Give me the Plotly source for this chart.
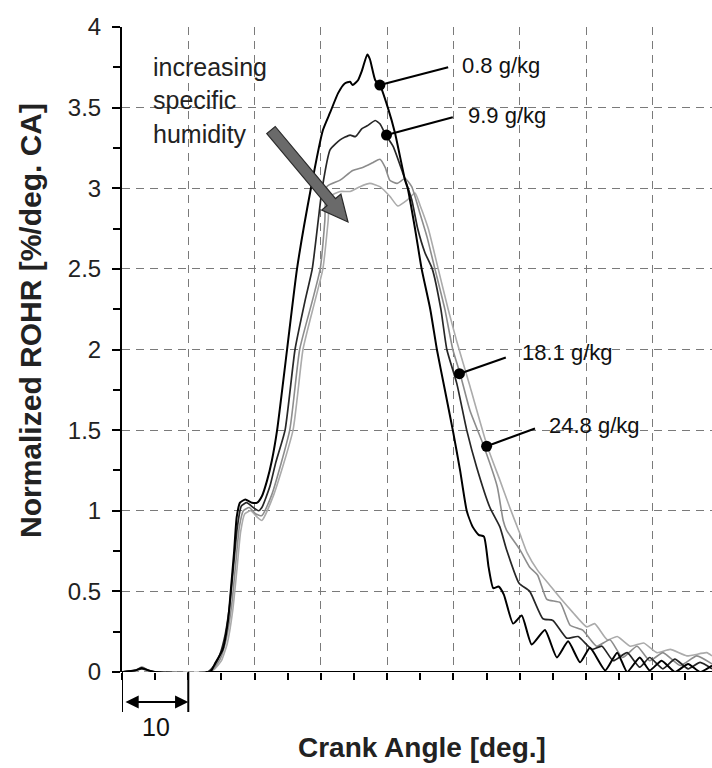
import math
import plotly.graph_objects as go

# ---------------- data ----------------
ca_08 = [0, 2.0, 3.0, 4.0, 5.0, 13.3, 14.0, 15.2, 16.0, 16.4, 16.9, 17.3, 17.8, 18.6, 19.6,
         20.4, 21.1, 21.9, 22.6, 23.4, 24.9, 26.4, 28.5, 30.3, 31.4, 32.6, 33.6, 34.4, 34.8,
         35.6, 36.2, 37.0, 37.4, 38.2, 38.9, 40.1, 41.2, 42.7, 43.1, 44.2, 45.2, 46.5, 47.5,
         48.7, 49.9, 51.0, 52.0, 52.9, 53.8, 54.6, 55.3, 56.0, 56.8, 57.6, 59.0, 60.3, 61.8,
         63.8, 65.6, 67.3, 69.1, 70.6, 72.9, 74.7, 76.2, 78.1, 79.6, 81.4, 83.4, 85.4, 87.2, 89.0]
rohr_08 = [0, 0.01, 0.025, 0.01, 0, 0, 0.05, 0.14, 0.32, 0.5, 0.74, 0.96, 1.05, 1.07, 1.05,
           1.05, 1.09, 1.19, 1.31, 1.5, 2.0, 2.5, 3.0, 3.36, 3.47, 3.59, 3.65, 3.66, 3.64,
           3.67, 3.73, 3.83, 3.80, 3.67, 3.64, 3.5, 3.34, 3.05, 3.0, 2.75, 2.5, 2.25, 2.0,
           1.75, 1.5, 1.25, 1.0, 0.9, 0.85, 0.84, 0.65, 0.52, 0.53, 0.48, 0.30, 0.35, 0.17,
           0.26, 0.09, 0.19, 0.06, 0.15, 0.01, 0.12, 0.0, 0.09, 0.01, 0.07, 0.0, 0.05, 0.0, 0.04]

ca_99 = [0, 2, 3, 4, 5, 12.9, 13.5, 14.5, 15.4, 16.2, 16.8, 17.4, 18.0, 18.8, 19.8, 20.6,
         21.1, 22.3, 23.2, 24.6, 26.1, 27.6, 28.7, 29.6, 30.2, 31.4, 32.9, 34.4, 35.2, 36.2,
         37.1, 38.2, 38.9, 39.8, 40.9, 42.4, 43.7, 44.6, 45.7, 46.8, 48.1, 49.0, 50.5, 52.0,
         53.5, 55.5, 57.0, 58.0, 59.9, 61.5, 63.5, 65.0, 67.1, 68.8, 70.9, 72.4, 74.1, 76.2,
         78.1, 79.6, 81.6, 83.4, 85.4, 87.2, 89.0]
rohr_99 = [0, 0.01, 0.02, 0.01, 0, 0, 0.02, 0.08, 0.2, 0.4, 0.65, 0.9, 1.03, 1.05, 1.02, 1.0,
           1.02, 1.15, 1.3, 1.5, 2.0, 2.3, 2.5, 2.8, 3.0, 3.24, 3.30, 3.33, 3.32, 3.37,
           3.39, 3.42, 3.40, 3.33, 3.26, 3.09, 2.93, 2.75, 2.6, 2.5, 2.25, 2.0, 1.79, 1.5,
           1.27, 1.02, 0.9, 0.76, 0.55, 0.5, 0.33, 0.32, 0.21, 0.22, 0.14, 0.16, 0.07, 0.12,
           0.03, 0.09, 0.02, 0.08, 0.02, 0.06, 0.02]

ca_181 = [0, 2, 3, 4, 5, 13.0, 13.8, 14.8, 15.7, 16.5, 17.1, 17.7, 18.3, 19.2, 20.2, 21.1,
          22.6, 25.3, 26.8, 28.7, 29.9, 30.6, 30.9, 32.9, 34.8, 36.4, 37.9, 38.9, 39.7, 40.4,
          41.5, 42.7, 43.7, 44.9, 46.0, 47.2, 48.7, 49.9, 51.0, 52.5, 54.4, 56.6, 57.5, 58.0,
          60.0, 61.5, 62.7, 64.1, 66.1, 67.6, 69.5, 71.6, 73.6, 75.5, 77.7, 79.6, 81.6, 84.2,
          86.7, 89.0]
rohr_181 = [0, 0.01, 0.03, 0.01, 0, 0, 0.02, 0.08, 0.2, 0.4, 0.65, 0.9, 1.0, 1.02, 0.98, 0.97,
            1.1, 1.5, 2.0, 2.3, 2.5, 2.8, 3.01, 3.05, 3.11, 3.13, 3.16, 3.18, 3.13, 3.05,
            3.03, 3.06, 3.01, 2.85, 2.7, 2.5, 2.25, 2.0, 1.85, 1.62, 1.42, 1.15, 0.94, 0.88,
            0.76, 0.65, 0.6, 0.45, 0.43, 0.29, 0.26, 0.16, 0.2, 0.09, 0.16, 0.07, 0.12, 0.04,
            0.1, 0.05]

ca_248 = [0, 2, 3, 4, 5, 13.1, 14.0, 15.0, 15.9, 16.7, 17.3, 17.9, 18.5, 19.4, 20.4, 21.1,
          22.9, 25.8, 27.3, 29.1, 30.3, 31.1, 31.4, 32.9, 34.4, 35.9, 37.4, 38.9, 40.4, 41.6,
          43.1, 44.2, 45.0, 46.2, 47.7, 49.2, 50.5, 52.5, 55.1, 57.0, 58.5, 60.0, 61.1, 62.7,
          64.5, 66.5, 68.0, 70.1, 71.3, 73.2, 74.7, 76.7, 78.7, 80.7, 82.7, 85.2, 88.2, 89.0]
rohr_248 = [0, 0.01, 0.03, 0.01, 0, 0, 0.02, 0.07, 0.18, 0.38, 0.62, 0.87, 0.98, 1.0, 0.96, 0.94,
            1.1, 1.5, 2.0, 2.3, 2.5, 2.8, 2.95, 2.98, 2.98, 3.01, 3.03, 3.01, 2.95, 2.89,
            2.93, 2.97, 2.89, 2.75, 2.5, 2.25, 2.05, 1.77, 1.4, 1.19, 1.02, 0.86, 0.74, 0.63,
            0.54, 0.44, 0.37, 0.28, 0.3, 0.2, 0.22, 0.16, 0.18, 0.12, 0.14, 0.1, 0.12, 0.1]

humidity_labels = ["0.8 g/kg", "9.9 g/kg", "18.1 g/kg", "24.8 g/kg"]
label_marker_x = [38.9, 39.9, 50.9, 55.0]
label_marker_y = [3.64, 3.33, 1.85, 1.40]
label_lead_x = [49.2, 49.9, 57.9, 62.3]
label_lead_y = [3.75, 3.44, 1.95, 1.51]
label_text_x = [51.0, 51.9, 60.0, 64.1]
label_text_y = [3.76, 3.45, 1.98, 1.53]

y_tick_vals = [0, 0.5, 1, 1.5, 2, 2.5, 3, 3.5, 4]
y_tick_text = ["0", "0.5", "1", "1.5", "2", "2.5", "3", "3.5", "4"]

# ---------------- layout geometry ----------------
W, H = 712, 768
ML, MR, MT, MB = 122, 0, 27, 96
X_MAX, Y_MAX = 89.0, 4.0
PW, PH = W - ML - MR, H - MT - MB
FONT = "Liberation Sans, Arial, sans-serif"


def px_to_x(px):
    return (px - ML) / PW * X_MAX


def py_to_y(py):
    return (H - MB - py) / PH * Y_MAX


fig = go.Figure()

series = [
    (ca_248, rohr_248, "#ababab", 1.6, "24.8 g/kg"),
    (ca_181, rohr_181, "#8c8c8c", 1.6, "18.1 g/kg"),
    (ca_99, rohr_99, "#262626", 1.7, "9.9 g/kg"),
    (ca_08, rohr_08, "#000000", 2.0, "0.8 g/kg"),
]
for xs, ys, col, lw, nm in series:
    fig.add_trace(go.Scatter(x=xs, y=ys, mode="lines", name=nm,
                             line=dict(color=col, width=lw, shape="spline", smoothing=0.5),
                             hoverinfo="skip"))

# label leader lines with dots
for i in range(len(humidity_labels)):
    fig.add_trace(go.Scatter(x=[label_marker_x[i], label_lead_x[i]],
                             y=[label_marker_y[i], label_lead_y[i]],
                             mode="lines", line=dict(color="black", width=2.2),
                             hoverinfo="skip"))
    fig.add_trace(go.Scatter(x=[label_marker_x[i]], y=[label_marker_y[i]],
                             mode="markers", marker=dict(color="black", size=11),
                             hoverinfo="skip"))
    fig.add_annotation(x=label_text_x[i], y=label_text_y[i], text=humidity_labels[i],
                       showarrow=False, xanchor="left", yanchor="middle",
                       font=dict(family=FONT, size=22, color="#111"))

# "increasing specific humidity" text
for txt, py in [("increasing", 67), ("specific", 100), ("humidity", 134)]:
    fig.add_annotation(x=px_to_x(151), y=py_to_y(py), text=txt, showarrow=False,
                       xanchor="left", yanchor="middle",
                       font=dict(family=FONT, size=25, color="#222"))

# block arrow (computed in pixel space, converted to data space)
tail = (271.0, 130.0)
tip = (348.0, 222.0)
dx, dy = tip[0] - tail[0], tip[1] - tail[1]
L = math.hypot(dx, dy)
ux, uy = dx / L, dy / L
nx, ny = -uy, ux
shaft_hw, head_hw, head_len = 5.5, 12.5, 26.0
bx, by = tip[0] - ux * head_len, tip[1] - uy * head_len
pts = [
    (tail[0] + nx * shaft_hw, tail[1] + ny * shaft_hw),
    (bx + nx * shaft_hw, by + ny * shaft_hw),
    (bx + nx * head_hw, by + ny * head_hw),
    tip,
    (bx - nx * head_hw, by - ny * head_hw),
    (bx - nx * shaft_hw, by - ny * shaft_hw),
    (tail[0] - nx * shaft_hw, tail[1] - ny * shaft_hw),
]
path = "M " + " L ".join(f"{px_to_x(p[0]):.4f},{py_to_y(p[1]):.4f}" for p in pts) + " Z"
fig.add_shape(type="path", path=path, xref="x", yref="y",
              fillcolor="#6a6a6a", line=dict(color="#2a2a2a", width=1.2), layer="above")

# x-axis line (solid part) and dashed baseline before combustion
fig.add_shape(type="line", x0=0, x1=12.6, y0=0, y1=0, xref="x", yref="y",
              line=dict(color="#7a7a7a", width=1.3, dash="6px,5px"), layer="below")
fig.add_shape(type="line", x0=12.6, x1=X_MAX, y0=0, y1=0, xref="x", yref="y",
              line=dict(color="black", width=2), layer="above")

# scale bracket "10"
br_bottom = (H - MB - 712) / PH
br_mid = (H - MB - 702) / PH
for xv in [0, 10]:
    fig.add_shape(type="line", x0=xv, x1=xv, y0=0, y1=br_bottom, xref="x", yref="paper",
                  line=dict(color="black", width=2))
fig.add_annotation(x=10, y=br_mid, xref="x", yref="paper", ax=-PW / X_MAX * 10 + 2, ay=0,
                   axref="pixel", ayref="pixel", text="", showarrow=True,
                   arrowhead=2, arrowside="end+start", arrowsize=1.2, arrowwidth=2.2,
                   arrowcolor="black", startarrowhead=2, startarrowsize=1.2)
fig.add_annotation(x=px_to_x(156), y=(H - MB - 727) / PH, xref="x", yref="paper",
                   xanchor="center", yanchor="middle",
                   text="10", showarrow=False, font=dict(family=FONT, size=25, color="#111"))

# axis titles
fig.add_annotation(x=(422 - ML) / PW, y=(H - MB - 747) / PH, xref="paper", yref="paper",
                   xanchor="center", yanchor="middle",
                   text="<b>Crank Angle [deg.]</b>", showarrow=False,
                   font=dict(family=FONT, size=28, color="#222"))
fig.add_annotation(x=(30 - ML) / PW, y=(H - MB - 321) / PH, xref="paper", yref="paper",
                   xanchor="center", yanchor="middle",
                   text="<b>Normalized ROHR [%/deg. CA]</b>", showarrow=False, textangle=-90,
                   font=dict(family=FONT, size=30, color="#222"))

fig.update_layout(
    width=W, height=H,
    margin=dict(l=ML, r=MR, t=MT, b=MB, pad=0),
    paper_bgcolor="white", plot_bgcolor="white",
    showlegend=False,
    xaxis=dict(range=[0, X_MAX], showline=False, zeroline=False,
               showgrid=True, gridcolor="#7a7a7a", gridwidth=1.3, griddash="8px,6px",
               dtick=10, tick0=0, ticks="outside", ticklen=7, tickwidth=1.5,
               tickcolor="black", showticklabels=False,
               minor=dict(dtick=5, tick0=0, ticks="outside", ticklen=7, tickwidth=1.5,
                          tickcolor="black", showgrid=False),
               automargin=False),
    yaxis=dict(range=[0, Y_MAX], showline=True, linecolor="black", linewidth=2,
               zeroline=False, showgrid=True, gridcolor="#7a7a7a", gridwidth=1.3,
               griddash="8px,6px", tickvals=y_tick_vals, ticktext=y_tick_text,
               ticks="outside", ticklen=8, tickwidth=1.5, tickcolor="black",
               ticklabelstandoff=6,
               tickfont=dict(family=FONT, size=24, color="#222"),
               minor=dict(dtick=0.25, tick0=0, ticks="outside", ticklen=7, tickwidth=1.5,
                          tickcolor="black", showgrid=False),
               automargin=False),
)

fig.write_html("out.html")
